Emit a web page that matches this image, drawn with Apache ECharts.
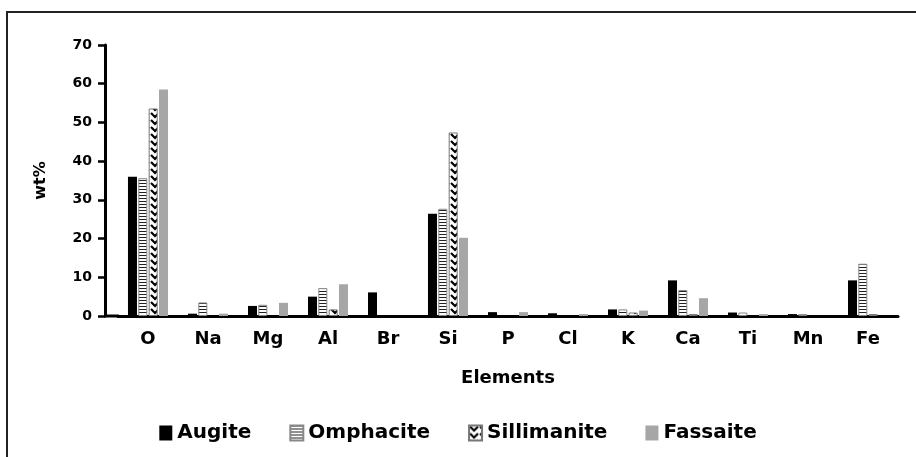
<!DOCTYPE html>
<html>
<head>
<meta charset="utf-8">
<script src="https://cdn.jsdelivr.net/npm/echarts@6/dist/echarts.min.js"></script>
<style>
html, body { margin: 0; padding: 0; background: #fff; }
#chart { width: 916px; height: 457px; }
</style>
</head>
<body>
<div id="chart"></div>
<script>
var elements = ['O', 'Na', 'Mg', 'Al', 'Br', 'Si', 'P', 'Cl', 'K', 'Ca', 'Ti', 'Mn', 'Fe']
// null = no bar drawn
var augite = [36.0, 0.6, 2.6, 5.0, 6.1, 26.4, 1.0, 0.7, 1.7, 9.2, 0.9, 0.5, 9.2]
var omphacite = [35.6, 3.5, 2.9, 7.2, null, 27.7, null, null, 1.7, 6.7, 0.9, 0.5, 13.5]
var sillimanite = [53.6, null, null, 1.7, null, 47.4, null, null, 0.9, 0.5, null, null, 0.5]
var fassaite = [58.5, 0.6, 3.4, 8.2, null, 20.2, 1.0, 0.5, 1.4, 4.6, 0.5, null, null]

// pattern for Omphacite: horizontal stripes
function stripes() {
  var c = document.createElement('canvas')
  c.width = 4
  c.height = 3
  var ctx = c.getContext('2d')
  ctx.fillStyle = '#fff'
  ctx.fillRect(0, 0, 4, 3)
  ctx.fillStyle = '#222'
  ctx.fillRect(0, 0, 4, 1)
  return c
}
// pattern for Sillimanite: chevrons
function chevrons() {
  var c = document.createElement('canvas')
  c.width = 10
  c.height = 7
  var ctx = c.getContext('2d')
  ctx.fillStyle = '#fff'
  ctx.fillRect(0, 0, 10, 7)
  ctx.strokeStyle = '#000'
  ctx.lineWidth = 2.2
  ctx.beginPath()
  ctx.moveTo(1, 1)
  ctx.lineTo(5, 5)
  ctx.lineTo(9, 1)
  ctx.stroke()
  return c
}

var font = 'DejaVu Sans'
var chart = echarts.init(document.getElementById('chart'))
var option = {
  animation: false,
  backgroundColor: '#fff',
  graphic: [
    {
      type: 'rect',
      shape: { x: 7, y: 12, width: 930, height: 470 },
      style: { fill: 'none', stroke: '#222', lineWidth: 2 }
    },
    {
      // join x axis line to the offset y axis
      type: 'line',
      shape: { x1: 104, y1: 316, x2: 119, y2: 316 },
      style: { stroke: '#000', lineWidth: 3 }
    }
  ],
  grid: {
    left: 118,
    top: 45,
    width: 780,
    height: 271
  },
  legend: {
    bottom: 9,
    left: 'center',
    icon: 'rect',
    itemWidth: 13,
    itemHeight: 15,
    itemGap: 38,
    textStyle: { fontFamily: font, fontWeight: 'bold', fontSize: 20, color: '#000' },
    data: ['Augite', 'Omphacite', 'Sillimanite', 'Fassaite']
  },
  xAxis: {
    type: 'category',
    data: elements,
    name: 'Elements',
    nameLocation: 'middle',
    nameGap: 53,
    nameTextStyle: { fontFamily: font, fontWeight: 'bold', fontSize: 18, color: '#000' },
    axisLine: { lineStyle: { color: '#000', width: 3 } },
    axisTick: { alignWithLabel: true, length: 8, lineStyle: { color: '#000', width: 2.5 } },
    axisLabel: { fontFamily: font, fontWeight: 'bold', fontSize: 18, color: '#000', margin: 14 }
  },
  yAxis: {
    type: 'value',
    min: 0,
    max: 70,
    interval: 10,
    offset: 13,
    name: 'wt%',
    nameLocation: 'middle',
    nameGap: 56,
    nameTextStyle: { fontFamily: font, fontWeight: 'bold', fontSize: 16, color: '#000' },
    splitLine: { show: false },
    axisLine: { show: true, lineStyle: { color: '#000', width: 3 } },
    axisTick: { show: true, length: 7, lineStyle: { color: '#000', width: 2.5 } },
    axisLabel: { fontFamily: font, fontWeight: 'bold', fontSize: 14, color: '#000', margin: 13 }
  },
  series: [
    {
      name: 'Augite',
      type: 'bar',
      barWidth: 9,
      barGap: '15%',
      data: augite,
      itemStyle: { color: '#000' }
    },
    {
      name: 'Omphacite',
      type: 'bar',
      barWidth: 9,
      barGap: '15%',
      data: omphacite,
      itemStyle: { color: { image: stripes(), repeat: 'repeat' }, borderColor: '#888', borderWidth: 1 }
    },
    {
      name: 'Sillimanite',
      type: 'bar',
      barWidth: 9,
      barGap: '15%',
      data: sillimanite,
      itemStyle: { color: { image: chevrons(), repeat: 'repeat' }, borderColor: '#777', borderWidth: 1 }
    },
    {
      name: 'Fassaite',
      type: 'bar',
      barWidth: 9,
      barGap: '15%',
      data: fassaite,
      itemStyle: { color: '#a6a6a6' }
    }
  ]
}
chart.setOption(option)
</script>
</body>
</html>
